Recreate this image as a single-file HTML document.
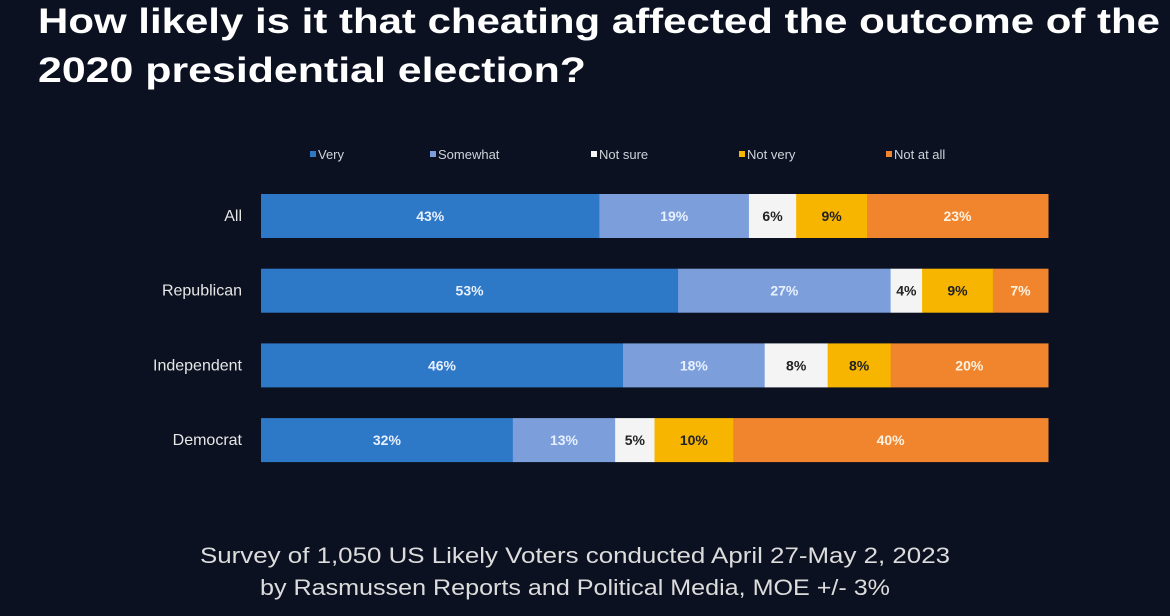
<!DOCTYPE html>
<html><head><meta charset="utf-8"><style>
html,body{margin:0;padding:0;background:#0b1120;}
svg{display:block;font-family:"Liberation Sans",sans-serif;}
</style></head><body>
<svg width="1170" height="616" viewBox="0 0 1170 616">
<rect width="1170" height="616" fill="#0b1120"/>
<text x="38" y="33" fill="#ffffff" font-size="35" font-weight="bold" textLength="1122" lengthAdjust="spacingAndGlyphs">How likely is it that cheating affected the outcome of the</text>
<text x="38" y="82" fill="#ffffff" font-size="35" font-weight="bold" textLength="548" lengthAdjust="spacingAndGlyphs">2020 presidential election?</text>
<g id="legend"></g>
<g id="bars"></g>
<text x="575" y="563" fill="#dcdcdc" font-size="22" text-anchor="middle" textLength="750" lengthAdjust="spacingAndGlyphs">Survey of 1,050 US Likely Voters conducted April 27-May 2, 2023</text>
<text x="575" y="595" fill="#dcdcdc" font-size="22" text-anchor="middle" textLength="630" lengthAdjust="spacingAndGlyphs">by Rasmussen Reports and Political Media, MOE +/- 3%</text>
</svg>
<script>
const categories = ["All","Republican","Independent","Democrat"];
const seriesNames = ["Very","Somewhat","Not sure","Not very","Not at all"];
const very = [43,53,46,32];
const somewhat = [19,27,18,13];
const notSure = [6,4,8,5];
const notVery = [9,9,8,10];
const notAtAll = [23,7,20,40];
const series = [very,somewhat,notSure,notVery,notAtAll];
const colors = ["#2e78c8","#7c9fdc","#f4f4f4","#f7b500","#f0852e"];
const textColors = ["#e8f0ff","#e8f0ff","#222","#222","#fff2e0"];
const NS="http://www.w3.org/2000/svg";
const x0=261, x1=1048;
const xs = v => (x1-x0)*v/100;
const rowY = i => 194 + i*74.7;
const barH = 44;
const bars=document.getElementById('bars');
categories.forEach((c,i)=>{
  const y=rowY(i);
  const lab=document.createElementNS(NS,'text');
  
  
  lab.setAttribute('x',242);lab.setAttribute('y',y+barH/2+5);
  lab.setAttribute('text-anchor','end');lab.setAttribute('fill','#e6e6e6');lab.setAttribute('font-size','16');
  lab.textContent=c;bars.appendChild(lab);
  let cx=x0;
  series.forEach((s,k)=>{
    const w=xs(s[i]);
    const r=document.createElementNS(NS,'rect');
    
    
    r.setAttribute('x',cx);r.setAttribute('y',y);r.setAttribute('width',w+0.5);r.setAttribute('height',barH);
    r.setAttribute('fill',colors[k]);bars.appendChild(r);
    const t=document.createElementNS(NS,'text');
    
    
    t.setAttribute('x',cx+w/2);t.setAttribute('y',y+barH/2+5);t.setAttribute('text-anchor','middle');
    t.setAttribute('font-size','14');t.setAttribute('font-weight','bold');t.setAttribute('fill',textColors[k]);
    t.textContent=s[i]+'%';bars.appendChild(t);
    cx+=w;
  });
});
const legend=document.getElementById('legend');
const legX=[310,430,591,739,886];
seriesNames.forEach((n,k)=>{
  const r=document.createElementNS(NS,'rect');
  
  
  r.setAttribute('x',legX[k]);r.setAttribute('y',151);r.setAttribute('width',6);r.setAttribute('height',6);
  r.setAttribute('fill',colors[k]);legend.appendChild(r);
  const t=document.createElementNS(NS,'text');
  
  
  t.setAttribute('x',legX[k]+8);t.setAttribute('y',159);t.setAttribute('font-size','13');t.setAttribute('fill','#cfd3da');
  t.textContent=n;legend.appendChild(t);
});
</script>
</body></html>
